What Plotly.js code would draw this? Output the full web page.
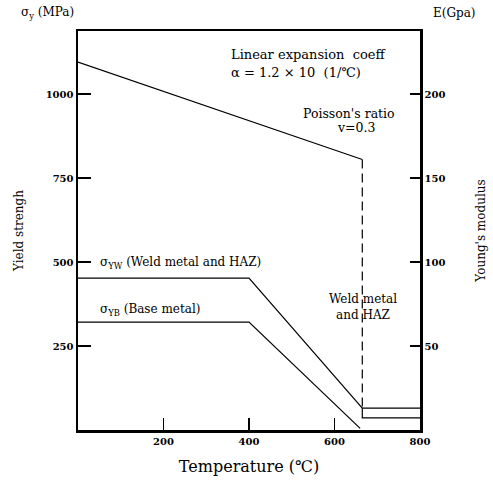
<!DOCTYPE html>
<html>
<head>
<meta charset="utf-8">
<script src="https://cdn.plot.ly/plotly-3.0.1.min.js"></script>
<style>html,body{margin:0;padding:0;background:#fff;}#chart{width:493px;height:494px;}</style>
</head>
<body>
<div id="chart"></div>
<script>
// Temperature (°C) break points and values
const tempE = [0, 665];                 // Young's modulus line
const modulusE = [219, 161];            // GPa
const tempDrop = [665, 665];            // vertical drop at melting region
const modulusDrop = [161, 13];          // GPa
const tempWeld = [0, 400, 665, 800];    // weld metal & HAZ yield
const yieldWeld = [452, 452, 65, 65];   // MPa
const tempBase = [0, 400, 660];         // base metal yield
const yieldBase = [321, 321, 5];        // MPa
const tempBox = [665, 665, 800];        // lower step beyond weld zone
const yieldBox = [65, 36, 36];          // MPa

const xTicks = [200, 400, 600, 800];
const yTicks = [250, 500, 750, 1000];
const y2Ticks = [50, 100, 150, 200];

const serif = "DejaVu Serif";
const ln = {color: "#000", width: 1.2};

const traces = [
  {x: tempE, y: modulusE, yaxis: "y2", mode: "lines", line: ln, name: "E"},
  {x: tempDrop, y: modulusDrop, yaxis: "y2", mode: "lines", line: {color: "#000", width: 1.2, dash: "9px,5px"}, name: "drop"},
  {x: tempWeld, y: yieldWeld, mode: "lines", line: ln, name: "σYW"},
  {x: tempBase, y: yieldBase, mode: "lines", line: ln, name: "σYB"},
  {x: tempBox, y: yieldBox, mode: "lines", line: ln, name: "box"}
];

const tickFont = {family: serif, size: 10, color: "#000", weight: "bold"};
const ann = (text, x, y, size, extra) => Object.assign({
  text: text, x: x, y: y, xref: "paper", yref: "paper", showarrow: false,
  font: {family: serif, size: size, color: "#000"}, xanchor: "center", yanchor: "middle"
}, extra || {});

const layout = {
  width: 493, height: 494,
  margin: {l: 78, r: 73, t: 31, b: 64},
  paper_bgcolor: "#fff", plot_bgcolor: "#fff",
  showlegend: false,
  xaxis: {
    range: [0, 800], tickvals: xTicks, ticktext: xTicks.map(String),
    ticks: "inside", ticklen: 12, tickwidth: 1.3, tickcolor: "#000",
    showline: true, linewidth: 2.5, linecolor: "#000", mirror: true,
    showgrid: false, zeroline: false, tickfont: tickFont,
    title: {text: "Temperature (℃)", font: {family: serif, size: 16, color: "#000"}, standoff: 16}
  },
  yaxis: {
    range: [0, 1187.5], tickvals: yTicks, ticktext: yTicks.map(String),
    ticks: "inside", ticklen: 13, tickwidth: 1.3, tickcolor: "#000",
    showline: true, linewidth: 2.5, linecolor: "#000", mirror: false,
    showgrid: false, zeroline: false, tickfont: tickFont,
    title: {text: "Yield strengh", font: {family: serif, size: 12, color: "#000"}, standoff: 20}
  },
  yaxis2: {
    overlaying: "y", side: "right", range: [0, 237.5],
    tickvals: y2Ticks, ticktext: y2Ticks.map(String),
    ticks: "inside", ticklen: 10, tickwidth: 1.3, tickcolor: "#000",
    showline: true, linewidth: 2.5, linecolor: "#000",
    showgrid: false, zeroline: false, tickfont: tickFont,
    title: {text: "Young's modulus", font: {family: serif, size: 12, color: "#000"}, standoff: 32}
  },
  annotations: [
    ann("σ<sub>y</sub> (MPa)", -0.088, 1.045, 12),
    ann("E(Gpa)", 1.102, 1.045, 12),
    ann("Linear expansion  coeff", 0.675, 0.940, 13),
    ann("α = 1.2 × 10  (1/℃)", 0.637, 0.897, 13),
    ann("Poisson's ratio", 0.792, 0.794, 12.5),
    ann("v=0.3", 0.813, 0.757, 12.5),
    ann("Weld metal<br>and HAZ", 0.833, 0.308, 12),
    ann("σ<sub>YW</sub> (Weld metal and HAZ)", 0.0585, 0.4185, 12, {xanchor: "left"}),
    ann("σ<sub>YB</sub> (Base metal)", 0.0585, 0.301, 12, {xanchor: "left"})
  ]
};

Plotly.newPlot("chart", traces, layout, {displayModeBar: false, staticPlot: true});
</script>
</body>
</html>
